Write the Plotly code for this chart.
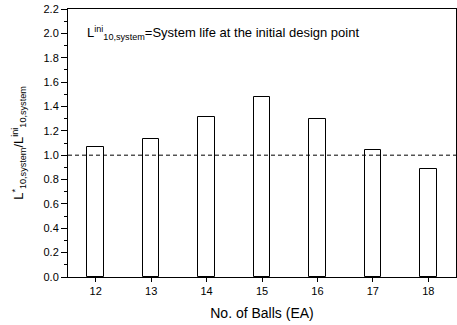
import plotly.graph_objects as go

balls = [12, 13, 14, 15, 16, 17, 18]
life_ratio = [1.07, 1.13, 1.31, 1.48, 1.30, 1.04, 0.89]
y_ticks = [0.0, 0.2, 0.4, 0.6, 0.8, 1.0, 1.2, 1.4, 1.6, 1.8, 2.0, 2.2]
ref_level = 1.0

font_family = "Liberation Sans, Arial, sans-serif"

fig = go.Figure()
fig.add_trace(go.Bar(
    x=balls, y=life_ratio, width=0.3,
    marker=dict(color="white", line=dict(color="black", width=1)),
    showlegend=False,
))

fig.add_shape(type="line", xref="paper", yref="y", x0=0, x1=1,
              y0=ref_level, y1=ref_level,
              line=dict(color="black", width=1, dash="4px,3px"))

fig.add_annotation(
    x=11.8, y=2.0, xref="x", yref="y", xanchor="left", yanchor="middle",
    text="L<sup>ini</sup><sub>10,system</sub>=System life at the initial design point",
    showarrow=False, font=dict(family=font_family, size=13, color="black"),
)

fig.update_layout(
    width=457, height=325,
    margin=dict(l=68, r=1, t=9, b=48),
    paper_bgcolor="white", plot_bgcolor="white",
    font=dict(family=font_family, size=11, color="black"),
    bargap=0,
)
fig.update_xaxes(
    range=[11.5, 18.5], tickvals=balls, ticktext=[str(b) for b in balls],
    ticks="outside", ticklen=4, tickwidth=1, tickcolor="black",
    showline=True, linecolor="black", linewidth=1, mirror=True,
    showgrid=False, zeroline=False,
    title=dict(text="No. of Balls (EA)", font=dict(size=14), standoff=11),
)
fig.update_yaxes(
    range=[0, 2.2], tickvals=y_ticks, ticktext=[f"{v:.1f}" for v in y_ticks],
    ticks="outside", ticklen=6, tickwidth=1, tickcolor="black",
    minor=dict(dtick=0.1, ticks="outside", ticklen=3, tickcolor="black", showgrid=False),
    showline=True, linecolor="black", linewidth=1, mirror=True,
    showgrid=False, zeroline=False,
    title=dict(text="L<sup>*</sup><sub>10,system</sub>/L<sup>ini</sup><sub>10,system</sub>",
               font=dict(size=13), standoff=16),
)

fig.write_html("out.html")
